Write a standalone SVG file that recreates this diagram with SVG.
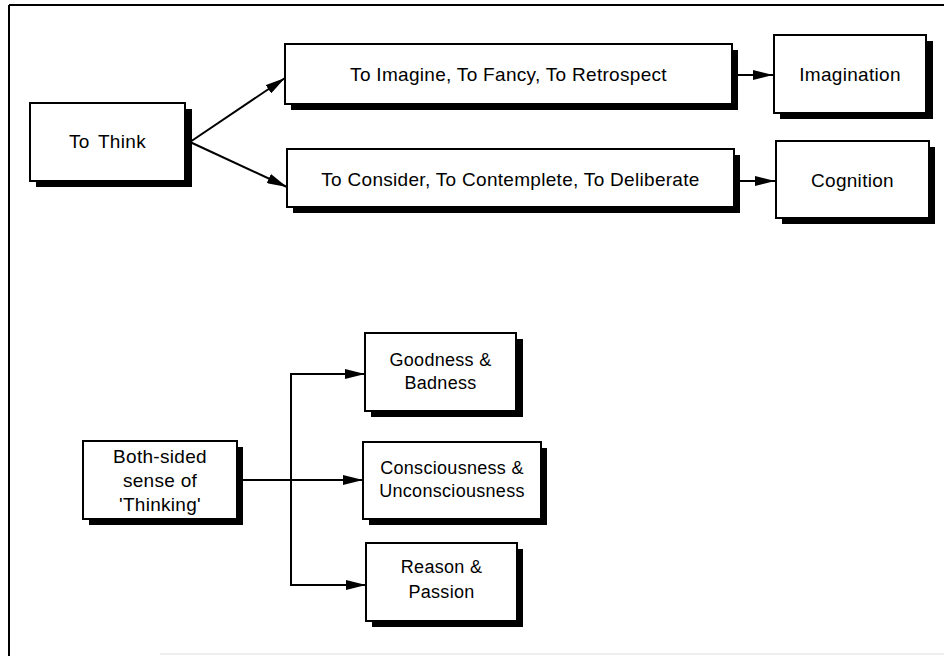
<svg xmlns="http://www.w3.org/2000/svg" width="944" height="656" viewBox="0 0 944 656">
<style>
.box{fill:#fff;stroke:#000;stroke-width:2}
.sh{fill:#000}
.t{font-family:"Liberation Sans",Arial,sans-serif;font-size:19px;fill:#000;text-anchor:middle;letter-spacing:0.3px}
.s{font-size:18px}
.c{fill:none;stroke:#000;stroke-width:2}
</style>
<defs>
<marker id="ahl" viewBox="0 0 10 10" refX="10" refY="5" markerWidth="20" markerHeight="10" markerUnits="userSpaceOnUse" orient="auto" preserveAspectRatio="none">
<path d="M0,0 L10,5 L0,10 Z" fill="#000"/>
</marker>
</defs>
<rect width="944" height="656" fill="#fff"/>
<g id="frame">
<line x1="9" y1="5" x2="944" y2="5" stroke="#000" stroke-width="2"/>
<line x1="9" y1="5" x2="9" y2="656" stroke="#000" stroke-width="2"/>
<line x1="160" y1="654" x2="944" y2="654" stroke="#ddd" stroke-width="1"/>
</g>
<g id="connectors">
<path class="c" d="M190,142 L285,78" marker-end="url(#ahl)"/>
<path class="c" d="M190,142 L287,187" marker-end="url(#ahl)"/>
<path class="c" d="M738,75 L773,75" marker-end="url(#ahl)"/>
<path class="c" d="M740,181 L775,181" marker-end="url(#ahl)"/>
<path class="c" d="M243,480 L363,480" marker-end="url(#ahl)"/>
<path class="c" d="M365,374 L291,374 L291,585 L366,585"/>
<path class="c" d="M300,374 L365,374" marker-end="url(#ahl)"/>
<path class="c" d="M300,585 L366,585" marker-end="url(#ahl)"/>
</g>
<g id="to-think">
<rect class="sh" x="36" y="109" width="156" height="78"/>
<rect class="box" x="30" y="103" width="155" height="78"/>
<text class="t" x="107.5" y="148" word-spacing="3">To Think</text>
</g>
<g id="to-imagine">
<rect class="sh" x="291" y="50" width="447" height="60"/>
<rect class="box" x="285" y="44" width="447" height="60"/>
<text class="t" x="508.5" y="81">To Imagine, To Fancy, To Retrospect</text>
</g>
<g id="to-consider">
<rect class="sh" x="293" y="155" width="447" height="58"/>
<rect class="box" x="287" y="149" width="447" height="58"/>
<text class="t" x="510.5" y="186">To Consider, To Contemplete, To Deliberate</text>
</g>
<g id="imagination">
<rect class="sh" x="780" y="41" width="153" height="78"/>
<rect class="box" x="774" y="35" width="152" height="78"/>
<text class="t" x="850" y="81">Imagination</text>
</g>
<g id="cognition">
<rect class="sh" x="782" y="147" width="153" height="77"/>
<rect class="box" x="776" y="141" width="153" height="77"/>
<text class="t" x="852.5" y="187">Cognition</text>
</g>
<g id="both-sided">
<rect class="sh" x="89" y="447" width="154" height="78"/>
<rect class="box" x="83" y="441" width="154" height="78"/>
<text class="t" x="160" y="463">Both-sided</text>
<text class="t" x="160" y="487">sense of</text>
<text class="t" x="160" y="511">'Thinking'</text>
</g>
<g id="goodness">
<rect class="sh" x="371" y="339" width="152" height="78"/>
<rect class="box" x="365" y="333" width="151" height="78"/>
<text class="t s" x="440.5" y="366">Goodness &amp;</text>
<text class="t s" x="440.5" y="389">Badness</text>
</g>
<g id="consciousness">
<rect class="sh" x="369" y="448" width="178" height="77"/>
<rect class="box" x="363" y="442" width="178" height="77"/>
<text class="t s" x="452" y="474">Consciousness &amp;</text>
<text class="t s" x="452" y="497">Unconsciousness</text>
</g>
<g id="reason">
<rect class="sh" x="372" y="549" width="151" height="78"/>
<rect class="box" x="366" y="543" width="151" height="78"/>
<text class="t s" x="441.5" y="573">Reason &amp;</text>
<text class="t s" x="441.5" y="598">Passion</text>
</g>
</svg>
